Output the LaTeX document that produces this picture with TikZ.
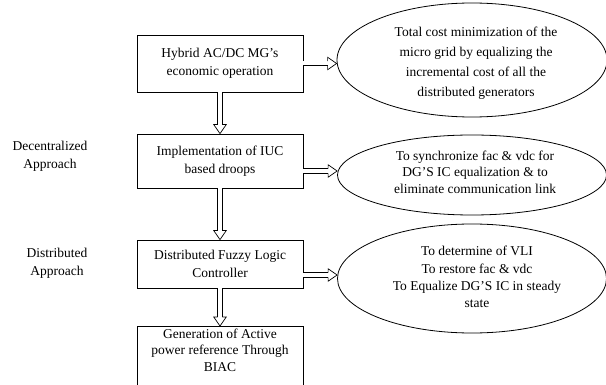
\documentclass[tikz,border=0pt]{standalone}
\usepackage{fontspec}
\setmainfont{Liberation Serif}
\usetikzlibrary{arrows.meta,shapes.geometric}
\pgfdeclarearrow{
  name = BlockHead,
  parameters = {\the\pgfarrowlength,\the\pgfarrowwidth},
  setup code = {
    \pgfarrowssettipend{0pt}
    \pgfarrowssetlineend{-\pgfarrowlength}
    \pgfarrowssetvisualbackend{-\pgfarrowlength}
    \pgfarrowssetbackend{-\pgfarrowlength}
    \pgfarrowshullpoint{0pt}{0pt}
    \pgfarrowsupperhullpoint{-\pgfarrowlength}{.5\pgfarrowwidth}
    \pgfarrowssavethe\pgfarrowlength
    \pgfarrowssavethe\pgfarrowwidth
  },
  drawing code = {
    \pgfsetlinewidth{0.7pt}
    \pgfsetmiterjoin
    \pgfpathmoveto{\pgfqpoint{-\pgfarrowlength}{2.35pt}}
    \pgfpathlineto{\pgfqpoint{-\pgfarrowlength}{.5\pgfarrowwidth}}
    \pgfpathlineto{\pgfqpoint{0pt}{0pt}}
    \pgfpathlineto{\pgfqpoint{-\pgfarrowlength}{-.5\pgfarrowwidth}}
    \pgfpathlineto{\pgfqpoint{-\pgfarrowlength}{-2.35pt}}
    \pgfusepathqstroke
  },
  defaults = {length=9pt, width=12.5pt}
}
\tikzset{
  procbox/.style={draw, line width=0.8pt, minimum width=166pt, inner sep=0pt, align=center},
  goal/.style={draw, ellipse, line width=0.8pt, inner sep=0pt},
  txt/.style={align=center, inner sep=0pt},
  dblarrow/.style={double, double distance=4pt, line width=0.7pt, -{BlockHead}},
}
\begin{document}
\begin{tikzpicture}[x=1pt, y=-1pt, font=\fontsize{13.5}{18}\selectfont]
\useasboundingbox (0,0) rectangle (606,385);
% boxes
\node[procbox, minimum height=57pt] (b1) at (220,63.5) {Hybrid AC/DC MG's\\economic operation};
\node[procbox, minimum height=54pt] (b2) at (220,161) {Implementation of IUC\\based droops};
\node[procbox, minimum height=48pt] (b3) at (220,264) {Distributed Fuzzy Logic\\Controller};
\node[procbox, minimum height=64pt, anchor=north] (b4) at (220,326) {};
\node[txt, font=\fontsize{13.5}{16.5}\selectfont] (t4) at (220,350) {Generation of Active\\power reference Through\\BIAC};
% ellipses
\node[goal, minimum width=270pt, minimum height=114pt] (e1) at (472,60) {};
\node[txt, font=\fontsize{13.5}{20}\selectfont] (t1) at (476,63) {Total cost minimization of the\\micro grid by equalizing the\\incremental cost of all the\\distributed generators};
\node[goal, minimum width=269pt, minimum height=80pt] (e2) at (472,175) {};
\node[txt, font=\fontsize{13.5}{16.5}\selectfont] (t2) at (475,172) {To synchronize fac \& vdc for\\DG'S IC equalization \& to\\eliminate communication link};
\node[goal, minimum width=269pt, minimum height=109pt] (e3) at (472,278.5) {};
\node[txt, font=\fontsize{13.5}{17.3}\selectfont] (t3) at (477,277) {To determine of VLI\\To restore fac \& vdc\\To Equalize DG'S IC in steady\\state};
% side labels
\node[txt] (l1) at (50,156) {Decentralized\\Approach};
\node[txt] (l2) at (57,263) {Distributed\\Approach};
% arrows
\draw[dblarrow] (b1.east) -- (b1.east -| e1.west);
\draw[dblarrow] ([yshift=-10pt]b2.east) -- ([yshift=-10pt]b2.east -| e2.west);
\draw[dblarrow] ([yshift=-11pt]b3.east) -- ([yshift=-11pt]b3.east -| e3.west);
\draw[dblarrow] (b1.south) -- (b2.north);
\draw[dblarrow] (b2.south) -- (b3.north);
\draw[dblarrow] (b3.south) -- (b4.north);
\end{tikzpicture}
\end{document}
